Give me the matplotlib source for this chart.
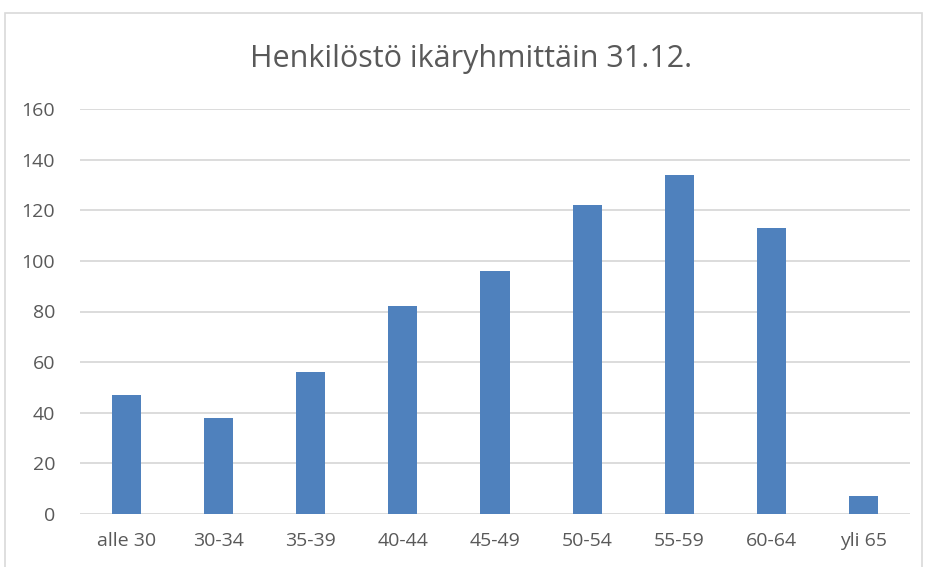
import matplotlib.pyplot as plt
from matplotlib.patches import Rectangle

# age groups and headcount at 31.12.
groups = ["alle 30", "30-34", "35-39", "40-44", "45-49", "50-54", "55-59", "60-64", "yli 65"]
counts = [47, 38, 56, 82, 96, 122, 134, 113, 7]
yticks = [0, 20, 40, 60, 80, 100, 120, 140, 160]

plt.rcParams['font.family'] = ['Open Sans', 'DejaVu Sans']

fig = plt.figure(figsize=(9.26, 5.67), dpi=100)
ax = fig.add_axes([80/926, 1 - 514/567, 830/926, 405/567])

x = range(len(groups))
ax.bar(x, counts, width=0.315, color='#4f81bd', zorder=3)

ax.set_xlim(-0.5, len(groups) - 0.5)
ax.set_ylim(0, 160)
ax.set_yticks(yticks)
ax.set_xticks(list(x))
ax.set_xticklabels(groups)
ax.grid(axis='y', color='#d9d9d9', linewidth=1.3, zorder=0)
for s in ax.spines.values():
    s.set_visible(False)
ax.tick_params(axis='both', length=0, labelsize=14, labelcolor='#595959')
ax.tick_params(axis='x', pad=13)
ax.tick_params(axis='y', pad=18)

fig.text(471/926, 1 - 67/567, "Henkilöstö ikäryhmittäin 31.12.", ha='center', va='baseline',
         fontsize=22, color='#595959')

# chart frame
fig.patches.append(Rectangle((5/926, -0.02), 917/926, 1.02 - 13/567, transform=fig.transFigure,
                             fill=False, edgecolor='#d9d9d9', linewidth=1.2))

fig.savefig("out.png", dpi=100)
